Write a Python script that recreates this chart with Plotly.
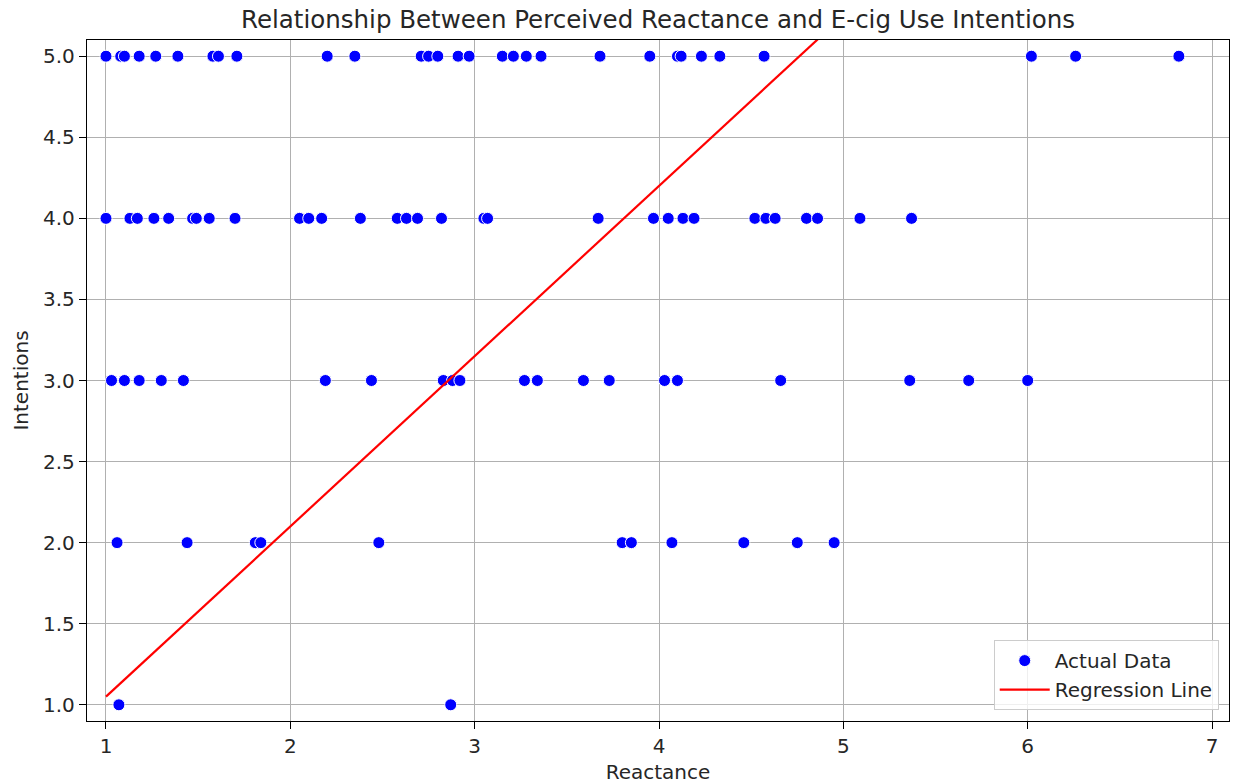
import plotly.graph_objects as go

# Reactance scores grouped by the reported intention level (1-5)
reactance_int5 = [1.00, 1.08, 1.10, 1.18, 1.27, 1.39, 1.58, 1.61, 1.71, 2.20, 2.35, 2.71, 2.75,
                  2.80, 2.91, 2.97, 3.15, 3.21, 3.28, 3.36, 3.68, 3.95, 4.10, 4.12, 4.23, 4.33,
                  4.57, 6.02, 6.26, 6.82]
reactance_int4 = [1.00, 1.13, 1.17, 1.26, 1.34, 1.47, 1.49, 1.56, 1.70, 2.05, 2.10, 2.17, 2.38,
                  2.58, 2.63, 2.69, 2.82, 3.05, 3.07, 3.67, 3.97, 4.05, 4.13, 4.19, 4.52, 4.58,
                  4.63, 4.80, 4.86, 5.09, 5.37]
reactance_int3 = [1.03, 1.10, 1.18, 1.30, 1.42, 2.19, 2.44, 2.83, 2.88, 2.92, 3.27, 3.34, 3.59,
                  3.73, 4.03, 4.10, 4.66, 5.36, 5.68, 6.00]
reactance_int2 = [1.06, 1.44, 1.81, 1.84, 2.48, 3.80, 3.85, 4.07, 4.46, 4.75, 4.95]
reactance_int1 = [1.07, 2.87]

# Fitted regression coefficients
slope = 1.05
intercept = 0.0

groups = [(5.0, reactance_int5), (4.0, reactance_int4), (3.0, reactance_int3),
          (2.0, reactance_int2), (1.0, reactance_int1)]
reactance = [x for _, xs in groups for x in xs]
intentions = [lvl for lvl, xs in groups for _ in xs]

x_line = [min(reactance), max(reactance)]
y_line = [intercept + slope * x for x in x_line]

FONT = "DejaVu Sans"
TXT = "#262626"

fig = go.Figure()
fig.add_trace(go.Scatter(
    x=reactance, y=intentions, mode="markers", name="Actual Data",
    marker=dict(color="blue", size=12, line=dict(color="white", width=1)),
))
fig.add_trace(go.Scatter(
    x=x_line, y=y_line, mode="lines", name="Regression Line",
    line=dict(color="red", width=2.2),
))

axis_common = dict(
    showgrid=True, gridcolor="#b0b0b0", gridwidth=1.4,
    showline=True, linecolor="black", linewidth=1.4, mirror=True,
    ticks="outside", ticklen=7, tickwidth=1.4, tickcolor="black",
    zeroline=False, tickfont=dict(family=FONT, size=20, color=TXT),
)

fig.update_layout(
    width=1233, height=784,
    margin=dict(l=87, r=4, t=40, b=63),
    paper_bgcolor="white", plot_bgcolor="white",
    title=dict(text="Relationship Between Perceived Reactance and E-cig Use Intentions",
               x=(87 + 1229) / 2 / 1233, xanchor="center",
               y=1 - 19 / 784, yanchor="middle", yref="container",
               font=dict(family=FONT, size=24.5, color=TXT)),
    xaxis=dict(range=[0.897, 7.092], tickmode="array", tickvals=[1, 2, 3, 4, 5, 6, 7],
               title=dict(text="Reactance", font=dict(family=FONT, size=20, color=TXT), standoff=8),
               **axis_common),
    yaxis=dict(range=[0.9, 5.1], tickmode="array",
               tickvals=[1.0, 1.5, 2.0, 2.5, 3.0, 3.5, 4.0, 4.5, 5.0],
               ticktext=["1.0", "1.5", "2.0", "2.5", "3.0", "3.5", "4.0", "4.5", "5.0"],
               title=dict(text="Intentions", font=dict(family=FONT, size=20, color=TXT), standoff=8),
               **axis_common),
    legend=dict(x=0.991, y=0.016, xanchor="right", yanchor="bottom",
                bgcolor="rgba(255,255,255,0.8)", bordercolor="#cccccc", borderwidth=1,
                itemwidth=50,
                font=dict(family=FONT, size=20, color=TXT)),
    showlegend=True,
)

fig.write_html("out.html")
